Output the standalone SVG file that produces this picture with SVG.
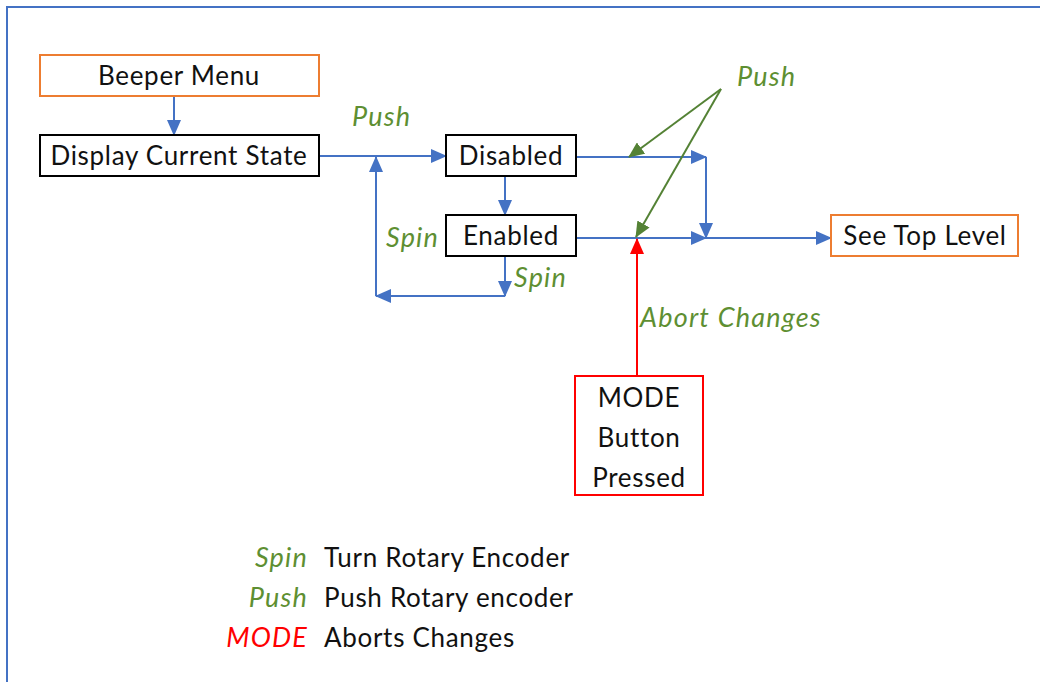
<svg xmlns="http://www.w3.org/2000/svg" width="1040" height="682" viewBox="0 0 1040 682">
<style>
.box{fill:#fff;stroke-width:2}
.blk{stroke:#000}
.org{stroke:#ED7D31}
.red{stroke:#FF0000}
.t{font-family:Lato,"Liberation Sans",sans-serif;font-size:26px;letter-spacing:0.7px;fill:#111;text-anchor:middle}
.g{font-family:Lato,"Liberation Sans",sans-serif;font-size:27px;letter-spacing:1.2px;font-style:italic;fill:#5E8F32}
.lg{font-family:Lato,"Liberation Sans",sans-serif;font-size:26px;letter-spacing:0.7px;fill:#111}
.c{stroke:#4472C4;stroke-width:2;fill:none;marker-end:url(#ab)}
.cg{stroke:#548235;stroke-width:2;fill:none;marker-end:url(#ag)}
.cr{stroke:#FF0000;stroke-width:2;fill:none;marker-end:url(#ar)}
</style>
<defs>
<marker id="ab" markerUnits="userSpaceOnUse" markerWidth="16" markerHeight="14" refX="15" refY="7" orient="auto"><path d="M0,0 L16,7 L0,14 Z" fill="#4472C4"/></marker>
<marker id="ag" markerUnits="userSpaceOnUse" markerWidth="16" markerHeight="14" refX="15" refY="7" orient="auto"><path d="M0,0 L16,7 L0,14 Z" fill="#548235"/></marker>
<marker id="ar" markerUnits="userSpaceOnUse" markerWidth="16" markerHeight="14" refX="15" refY="7" orient="auto"><path d="M0,0 L16,7 L0,14 Z" fill="#FF0000"/></marker>
</defs>
<rect x="7" y="7" width="1100" height="720" fill="#fff" stroke="#4472C4" stroke-width="2"/>
<g id="connectors">
<line class="c" x1="174" y1="96" x2="174" y2="135"/>
<line class="c" x1="319" y1="156" x2="446" y2="156"/>
<line class="c" x1="505" y1="176" x2="505" y2="215"/>
<line class="c" x1="505" y1="256" x2="505" y2="296"/>
<line class="c" x1="505" y1="296" x2="376" y2="296"/>
<line class="c" x1="376" y1="296" x2="376" y2="157"/>
<line class="c" x1="576" y1="157" x2="706" y2="157"/>
<line class="c" x1="706" y1="157" x2="706" y2="238"/>
<line class="c" x1="576" y1="238" x2="706" y2="238"/>
<line class="c" x1="706" y1="238" x2="831" y2="238"/>
<line class="cr" x1="637" y1="376" x2="637" y2="239"/>
<line class="cg" x1="721" y1="89" x2="629" y2="157"/>
<line class="cg" x1="721" y1="89" x2="636" y2="237"/>
</g>
<g id="beeper-menu"><rect class="box org" x="40" y="55" width="279" height="41"/><text class="t" x="179" y="85">Beeper Menu</text></g>
<g id="display-current-state"><rect class="box blk" x="40" y="135" width="279" height="41"/><text class="t" x="179" y="165">Display Current State</text></g>
<g id="disabled"><rect class="box blk" x="446" y="135" width="130" height="41"/><text class="t" x="511" y="165">Disabled</text></g>
<g id="enabled"><rect class="box blk" x="446" y="215" width="130" height="41"/><text class="t" x="511" y="245">Enabled</text></g>
<g id="see-top-level"><rect class="box org" x="831" y="215" width="187" height="41"/><text class="t" x="925" y="245">See Top Level</text></g>
<g id="mode-button"><rect class="box red" x="575" y="376" width="128" height="119"/><text class="t" x="639" y="407">MODE</text><text class="t" x="639" y="447">Button</text><text class="t" x="639" y="487">Pressed</text></g>
<g id="labels">
<text class="g" x="352" y="126">Push</text>
<text class="g" x="737" y="86">Push</text>
<text class="g" x="386" y="247">Spin</text>
<text class="g" x="514" y="287">Spin</text>
<text class="g" x="640" y="327">Abort Changes</text>
</g>
<g id="legend">
<text class="g" x="308" y="567" text-anchor="end">Spin</text>
<text class="lg" x="324" y="567">Turn Rotary Encoder</text>
<text class="g" x="308" y="607" text-anchor="end">Push</text>
<text class="lg" x="324" y="607">Push Rotary encoder</text>
<text class="g" x="308" y="647" text-anchor="end" style="fill:#FF0000">MODE</text>
<text class="lg" x="324" y="647">Aborts Changes</text>
</g>
</svg>
